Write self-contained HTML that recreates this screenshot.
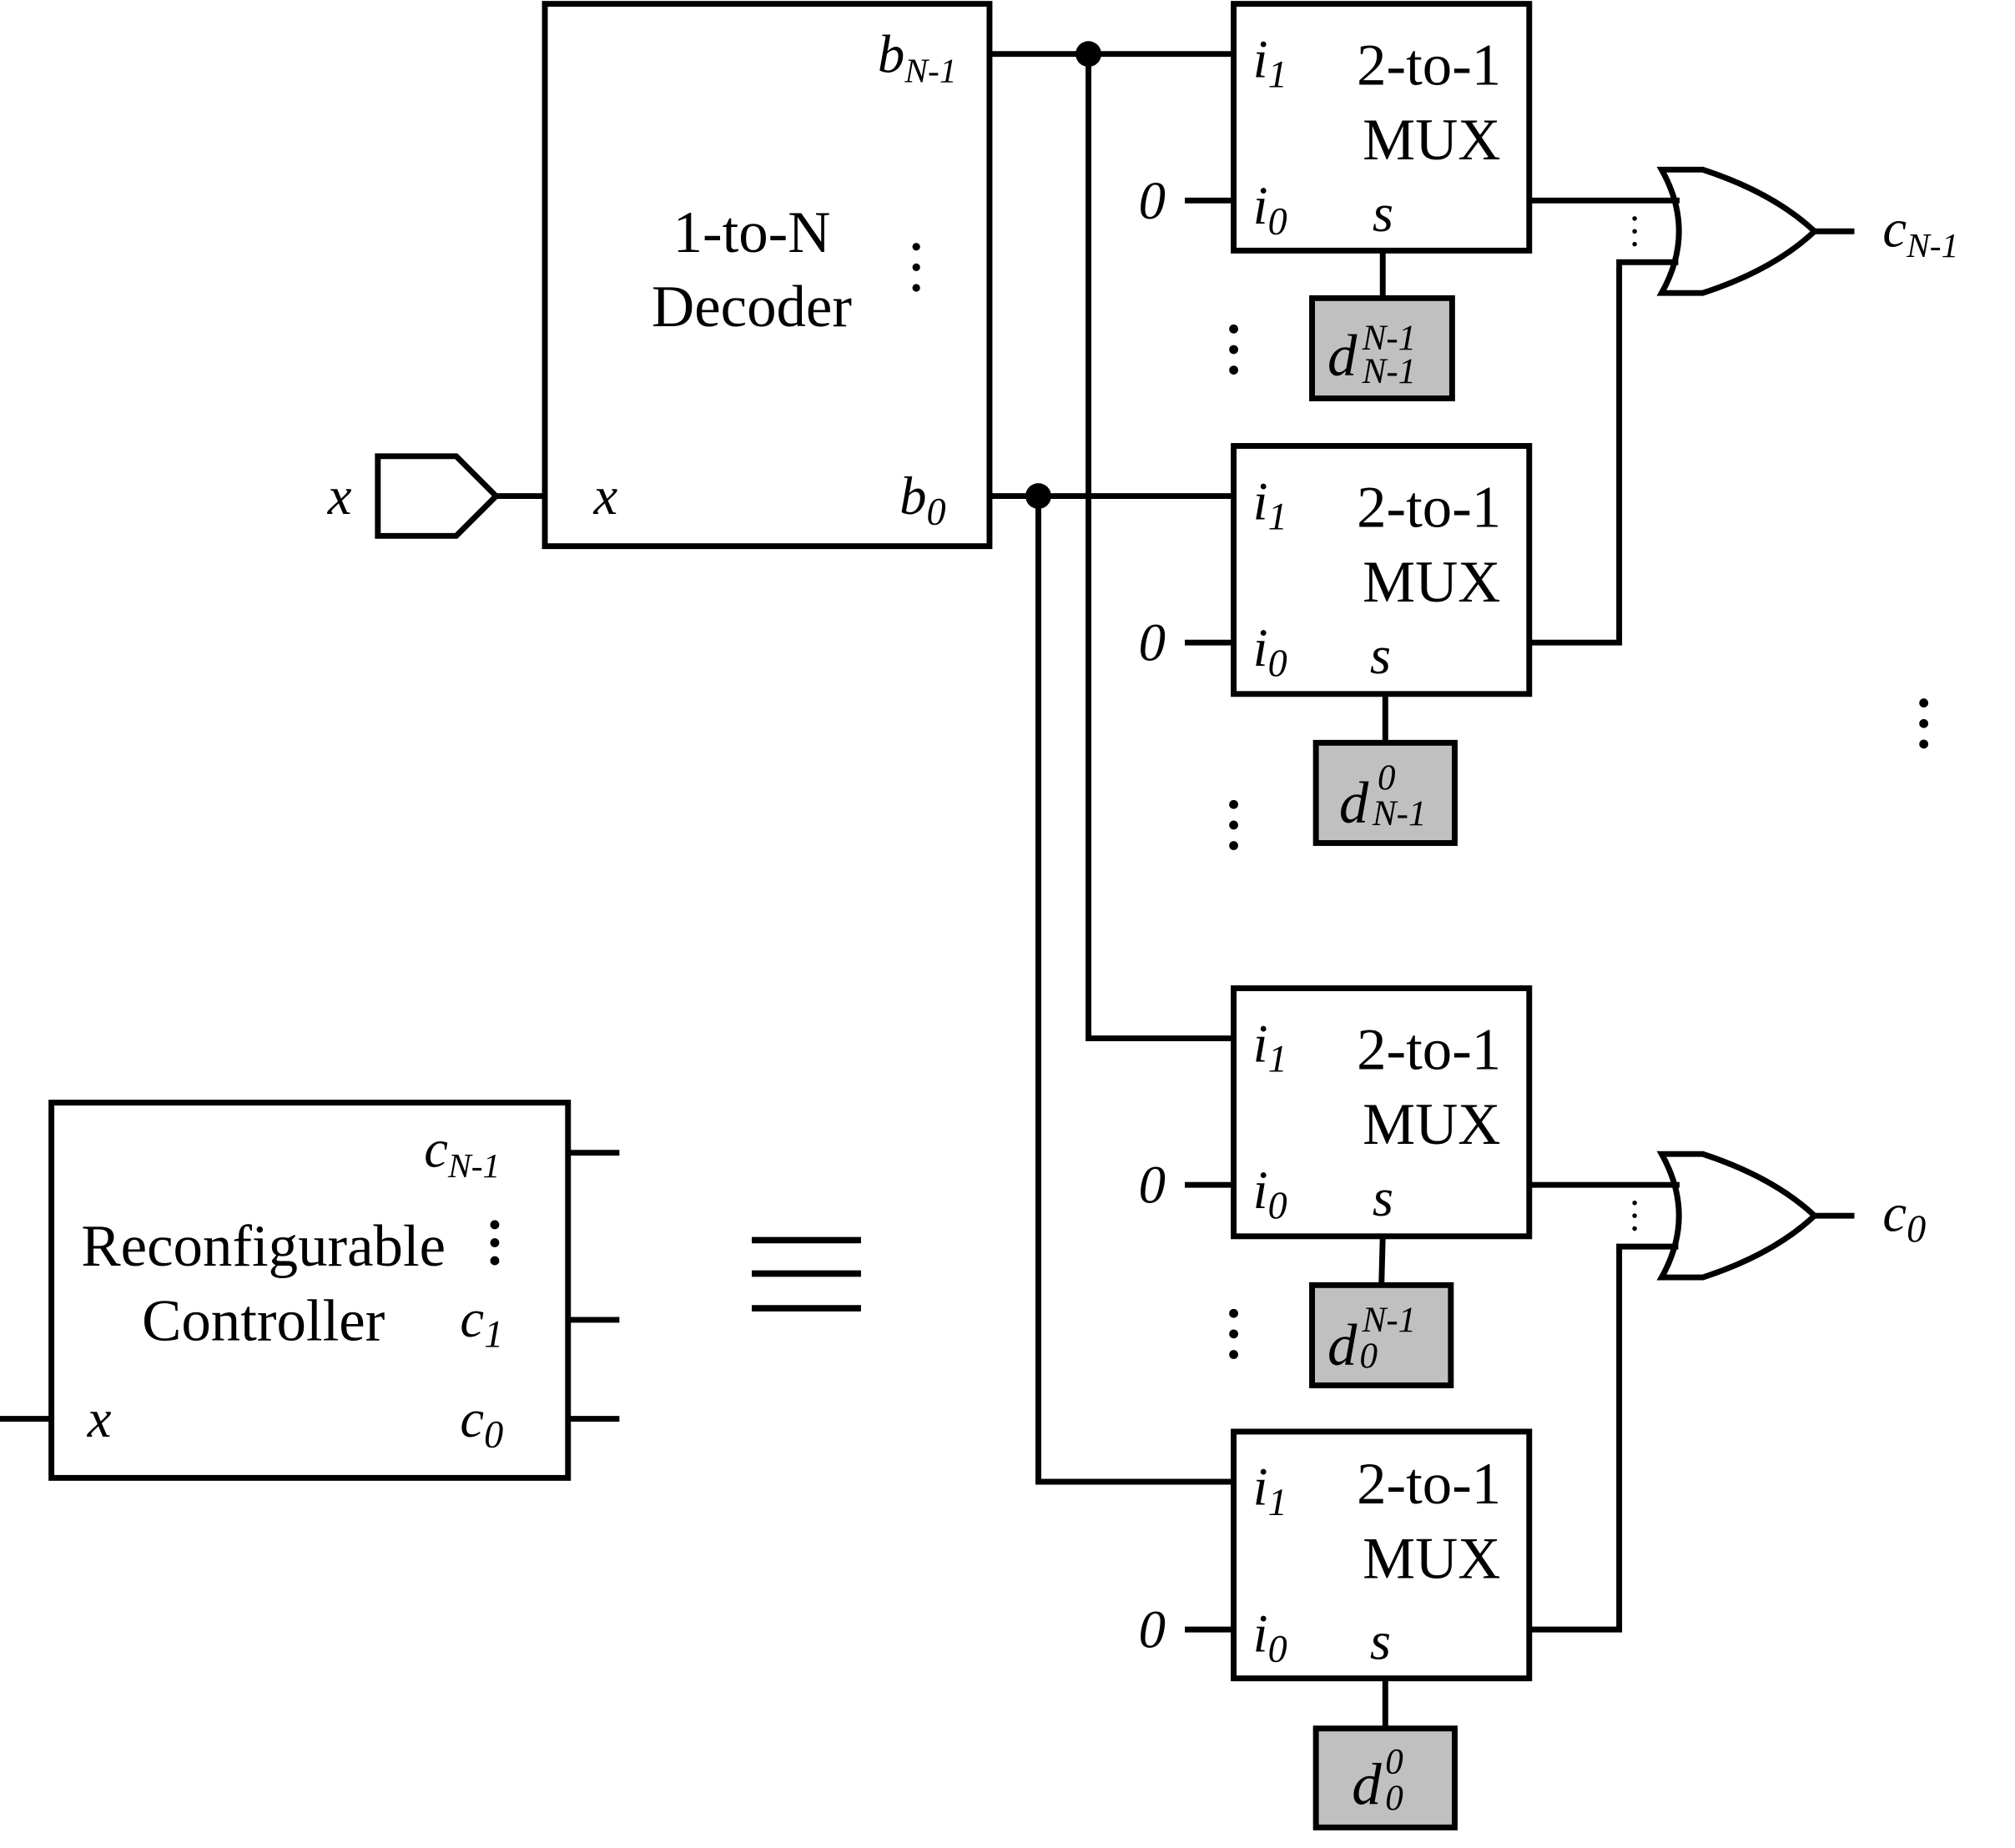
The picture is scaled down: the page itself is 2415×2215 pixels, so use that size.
<!DOCTYPE html>
<html><head><style>html,body{margin:0;padding:0;background:#fff}svg{display:block}</style></head><body>
<svg width="2415" height="2215" viewBox="0 0 1568 1438" preserveAspectRatio="none" xmlns="http://www.w3.org/2000/svg" style="font-family:'Liberation Serif','Times New Roman',serif">
<g fill="none" stroke="#000" stroke-width="4.5">
<rect x="424" y="3" width="346" height="422"/>
<polygon points="294,355 355,355 386,386 355,417 294,417"/>
<line x1="386" y1="386" x2="424" y2="386"/>
<polyline points="770,42 960,42"/>
<polyline points="847,42 847,808 960,808"/>
<polyline points="770,386 960,386"/>
<polyline points="808,386 808,1153 960,1153"/>
<rect x="960" y="3" width="230" height="192"/>
<rect x="960" y="347" width="230" height="193"/>
<rect x="960" y="769" width="230" height="193"/>
<rect x="960" y="1114" width="230" height="192"/>
<line x1="922" y1="156" x2="960" y2="156"/>
<line x1="922" y1="500" x2="960" y2="500"/>
<line x1="922" y1="922" x2="960" y2="922"/>
<line x1="922" y1="1268" x2="960" y2="1268"/>
<line x1="1076" y1="195" x2="1076" y2="232"/>
<line x1="1078" y1="540" x2="1078" y2="578"/>
<line x1="1076" y1="962" x2="1075" y2="1000"/>
<line x1="1078" y1="1306" x2="1078" y2="1345"/>
<path d="M1293,132 L1325,132 Q1380,150 1412,180 Q1380,210 1325,228 L1293,228 Q1320,180 1293,132 Z"/>
<path d="M1293,898 L1325,898 Q1380,916 1412,946 Q1380,976 1325,994 L1293,994 Q1320,946 1293,898 Z"/>
<line x1="1190" y1="156" x2="1307" y2="156"/>
<polyline points="1190,500 1260,500 1260,204 1306,204"/>
<line x1="1412" y1="180" x2="1443" y2="180"/>
<line x1="1190" y1="922" x2="1307" y2="922"/>
<polyline points="1190,1268 1260,1268 1260,970 1306,970"/>
<line x1="1412" y1="946" x2="1443" y2="946"/>
<rect x="40" y="858" width="402" height="292"/>
<line x1="442" y1="897" x2="482" y2="897"/>
<line x1="442" y1="1027" x2="482" y2="1027"/>
<line x1="442" y1="1104" x2="482" y2="1104"/>
<line x1="0" y1="1104" x2="40" y2="1104"/>
<g stroke-width="5"><line x1="585" y1="965" x2="670" y2="965"/><line x1="585" y1="991" x2="670" y2="991"/><line x1="585" y1="1018" x2="670" y2="1018"/></g>
</g>
<g fill="#c0c0c0" stroke="#000" stroke-width="4.5">
<rect x="1021" y="232" width="109" height="78"/>
<rect x="1024" y="578" width="108" height="78"/>
<rect x="1021" y="1000" width="108" height="78"/>
<rect x="1024" y="1345" width="108" height="77"/>
</g>
<g fill="#000">
<circle cx="847" cy="42" r="10"/><circle cx="808" cy="386" r="10"/>
<circle cx="713" cy="192" r="3"/><circle cx="713" cy="208" r="3"/><circle cx="713" cy="224" r="3"/>
<circle cx="960" cy="256" r="3.5"/><circle cx="960" cy="272" r="3.5"/><circle cx="960" cy="288" r="3.5"/>
<circle cx="960" cy="626" r="3.5"/><circle cx="960" cy="642" r="3.5"/><circle cx="960" cy="658" r="3.5"/>
<circle cx="960" cy="1022" r="3.5"/><circle cx="960" cy="1038" r="3.5"/><circle cx="960" cy="1054" r="3.5"/>
<circle cx="1497" cy="547" r="3.5"/><circle cx="1497" cy="563" r="3.5"/><circle cx="1497" cy="579" r="3.5"/>
<circle cx="1272" cy="170" r="1.8"/><circle cx="1272" cy="180" r="1.8"/><circle cx="1272" cy="190" r="1.8"/>
<circle cx="1272" cy="936" r="1.8"/><circle cx="1272" cy="946" r="1.8"/><circle cx="1272" cy="956" r="1.8"/>
<circle cx="385" cy="953" r="3.5"/><circle cx="385" cy="967" r="3.5"/><circle cx="385" cy="981" r="3.5"/>
</g>
<g font-size="46" text-anchor="middle">
<text x="585" y="196">1-to-N</text><text x="585" y="254">Decoder</text>
<text x="1112" y="66">2-to-1</text><text x="1114" y="124">MUX</text>
<text x="1112" y="410">2-to-1</text><text x="1114" y="468">MUX</text>
<text x="1112" y="832">2-to-1</text><text x="1114" y="890">MUX</text>
<text x="1112" y="1170">2-to-1</text><text x="1114" y="1228">MUX</text>
<text x="205" y="985">Reconfigurable</text><text x="205" y="1043">Controller</text>
</g>
<g font-size="42" font-style="italic">
<text x="255" y="400">x</text><text x="462" y="400">x</text>
<text x="683" y="56">b<tspan font-size="27" dy="8">N-1</tspan></text>
<text x="700" y="400">b<tspan font-size="30" dy="8">0</tspan></text>
<text x="886" y="170">0</text><text x="886" y="514">0</text><text x="886" y="936">0</text><text x="886" y="1282">0</text>
<text x="975" y="60">i<tspan font-size="30" dy="8">1</tspan></text>
<text x="975" y="174">i<tspan font-size="30" dy="8">0</tspan></text>
<text x="1068" y="180">s</text>
<text x="975" y="404">i<tspan font-size="30" dy="8">1</tspan></text>
<text x="975" y="518">i<tspan font-size="30" dy="8">0</tspan></text>
<text x="1066" y="524">s</text>
<text x="975" y="826">i<tspan font-size="30" dy="8">1</tspan></text>
<text x="975" y="940">i<tspan font-size="30" dy="8">0</tspan></text>
<text x="1068" y="946">s</text>
<text x="975" y="1171">i<tspan font-size="30" dy="8">1</tspan></text>
<text x="975" y="1285">i<tspan font-size="30" dy="8">0</tspan></text>
<text x="1066" y="1291">s</text>
<text x="1465" y="192">c<tspan font-size="27" dy="8">N-1</tspan></text>
<text x="1465" y="958">c<tspan font-size="30" dy="8">0</tspan></text>
<text x="330" y="908">c<tspan font-size="27" dy="8">N-1</tspan></text>
<text x="358" y="1040">c<tspan font-size="30" dy="8">1</tspan></text>
<text x="358" y="1118">c<tspan font-size="30" dy="8">0</tspan></text>
<text x="68" y="1118">x</text>
<text x="1033" y="292" font-size="46">d</text><text x="1060" y="272" font-size="28">N-1</text><text x="1060" y="298" font-size="28">N-1</text>
<text x="1042" y="640" font-size="46">d</text><text x="1072" y="614" font-size="28">0</text><text x="1068" y="642" font-size="28">N-1</text>
<text x="1033" y="1062" font-size="46">d</text><text x="1060" y="1036" font-size="28">N-1</text><text x="1058" y="1064" font-size="28">0</text>
<text x="1052" y="1404" font-size="46">d</text><text x="1078" y="1380" font-size="28">0</text><text x="1078" y="1408" font-size="28">0</text>
</g>
</svg>
</body></html>
